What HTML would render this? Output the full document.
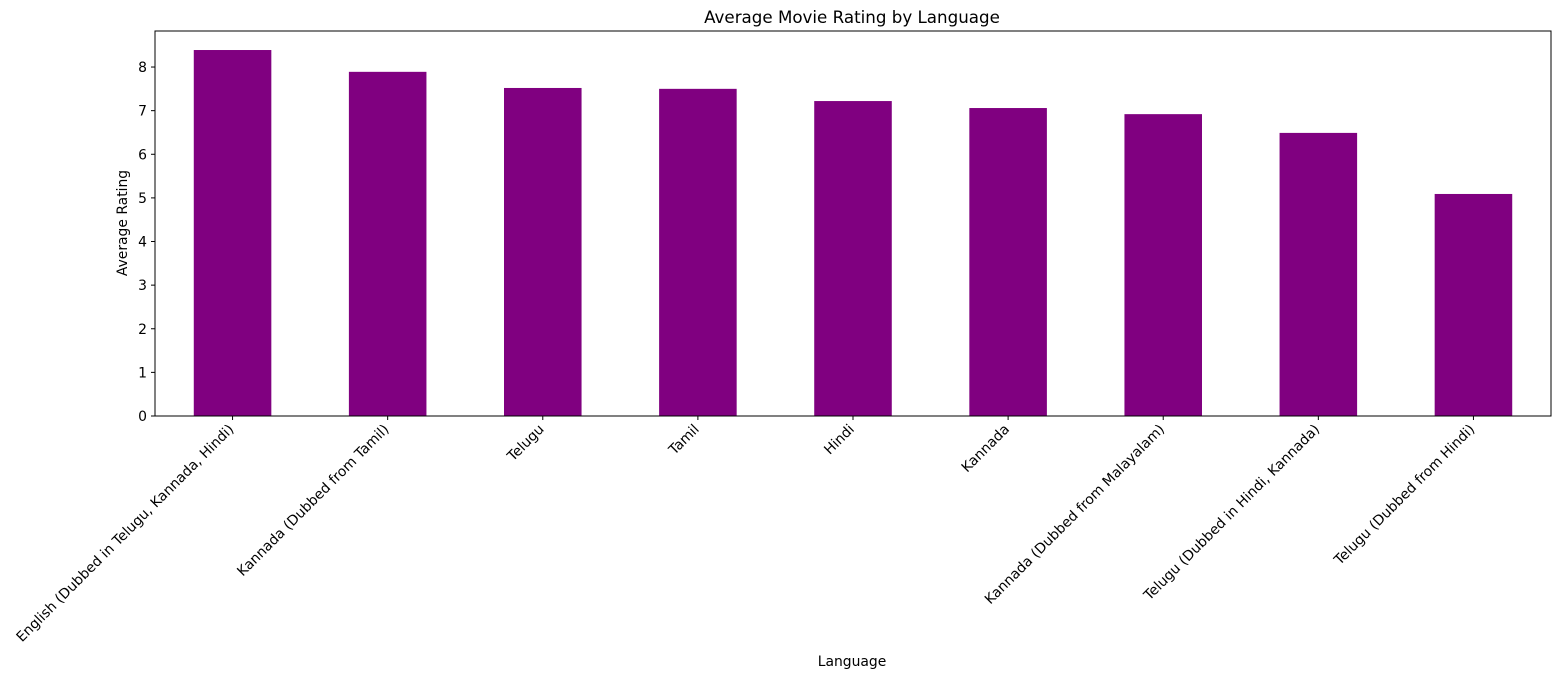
<!DOCTYPE html>
<html><head><meta charset="utf-8"><style>
body{margin:0;background:#fff;}
svg{display:block;font-family:"DejaVu Sans","Liberation Sans",sans-serif;}
</style></head><body>
<svg id="chart" width="1559" height="678">
<text x="852" y="23" text-anchor="middle" font-size="16.7">Average Movie Rating by Language</text>
<g id="bars"></g>
<g id="yticks"></g>
<g id="xticks"></g>
<rect x="155" y="31" width="1396" height="385" fill="none" stroke="#000" stroke-width="1"/>
<text transform="translate(127,223) rotate(-90)" text-anchor="middle" font-size="13.9">Average Rating</text>
<text x="852" y="666" text-anchor="middle" font-size="13.9">Language</text>
</svg>
<script>
const categories=["English (Dubbed in Telugu, Kannada, Hindi)","Kannada (Dubbed from Tamil)","Telugu","Tamil","Hindi","Kannada","Kannada (Dubbed from Malayalam)","Telugu (Dubbed in Hindi, Kannada)","Telugu (Dubbed from Hindi)"];
const ratings=[8.39,7.89,7.52,7.50,7.22,7.06,6.92,6.49,5.09];
const yTicks=[0,1,2,3,4,5,6,7,8];
const NS="http://www.w3.org/2000/svg";
const L=155,R=1551,T=31,B=416;
const yMax=8.826;
const ys=v=>B-v/yMax*(B-T);
const step=(R-L)/categories.length;
const xs=i=>L+(i+0.5)*step;
const bw=step*0.5;
const bars=document.getElementById('bars'),yt=document.getElementById('yticks'),xt=document.getElementById('xticks');
ratings.forEach((v,i)=>{
 const r=document.createElementNS(NS,'rect');
 r.setAttribute('x',xs(i)-bw/2);r.setAttribute('y',ys(v));
 r.setAttribute('width',bw);r.setAttribute('height',B-ys(v));r.setAttribute('fill','#800080');
 
 
 bars.appendChild(r);
});
yTicks.forEach(t=>{
 const y=ys(t);
 const l=document.createElementNS(NS,'line');
 l.setAttribute('x1',L-4);l.setAttribute('x2',L);l.setAttribute('y1',y);l.setAttribute('y2',y);l.setAttribute('stroke','#000');
 
 
 yt.appendChild(l);
 const tx=document.createElementNS(NS,'text');
 tx.setAttribute('x',L-8);tx.setAttribute('y',y+5);tx.setAttribute('text-anchor','end');tx.setAttribute('font-size','13.9');
 tx.textContent=t;
 
 
 yt.appendChild(tx);
});
categories.forEach((c,i)=>{
 const x=xs(i);
 const l=document.createElementNS(NS,'line');
 l.setAttribute('x1',x);l.setAttribute('x2',x);l.setAttribute('y1',B);l.setAttribute('y2',B+4);l.setAttribute('stroke','#000');
 
 
 xt.appendChild(l);
 const tx=document.createElementNS(NS,'text');
 tx.setAttribute('transform','translate('+(x+2)+','+(B+14)+') rotate(-45)');
 tx.setAttribute('text-anchor','end');tx.setAttribute('font-size','13.9');
 tx.textContent=c;
 
 
 xt.appendChild(tx);
});
</script>
</body></html>
